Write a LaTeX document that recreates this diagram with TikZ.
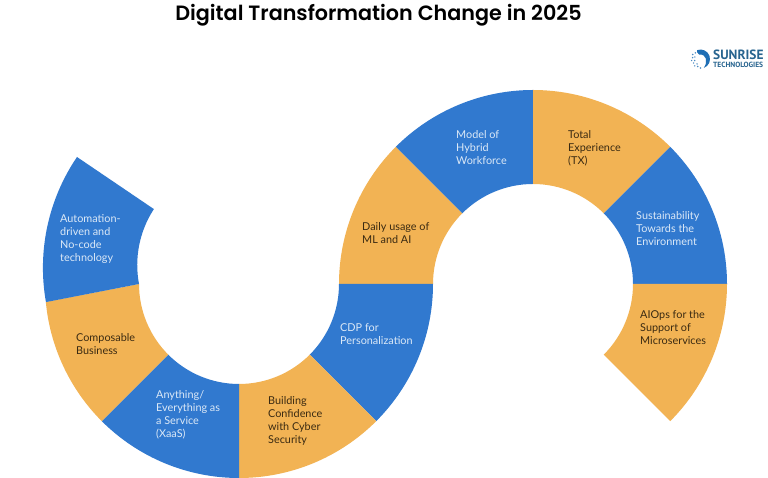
\documentclass[tikz,border=0pt]{standalone}
\usepackage{fontspec}
\setmainfont{Lato}
\newfontfamily\titlefont{Poppins SemiBold}
\newfontfamily\logofont{PT Sans}
\definecolor{segblue}{HTML}{3179CF}
\definecolor{segorange}{HTML}{F2B354}
\definecolor{inkdark}{HTML}{3A2A12}
\definecolor{inklight}{HTML}{DCE9F7}
\definecolor{logoblue}{HTML}{1F6FB5}
\definecolor{logotext}{HTML}{27648F}
\newcommand{\ringseg}[6]{% cx cy start end colour outerEnd
  \fill[#5] ($(#1,#2)+(#3:100)$) -- ($(#1,#2)+(#6:194)$) arc[start angle=#6,end angle=#4,radius=194] -- ($(#1,#2)+(#4:100)$) arc[start angle=#4,end angle=#3,radius=100] -- cycle;}
\usetikzlibrary{calc}
\tikzset{
  lbl/.style={anchor=west,align=left,font=\fontsize{10.85}{13}\selectfont,inner sep=0pt},
  onblue/.style={lbl,text=inklight},
  onorange/.style={lbl,text=inkdark}
}
\begin{document}
\begin{tikzpicture}[x=1pt,y=1pt]
\useasboundingbox (0,0) rectangle (768,478);
\fill[white] (0,0) rectangle (768,478);
% upper circle, centre (533,194)
\ringseg{533}{194}{180}{135}{segorange}{180}
\ringseg{533}{194}{135}{90}{segblue}{135}
\ringseg{533}{194}{90}{45}{segorange}{90}
\ringseg{533}{194}{45}{0}{segblue}{45}
\ringseg{533}{194}{0}{-45}{segorange}{0}
% lower circle, centre (239,194)
\ringseg{239}{194}{0}{-45}{segblue}{0}
\ringseg{239}{194}{-45}{-90}{segorange}{-45}
\ringseg{239}{194}{-90}{-135}{segblue}{-90}
\fill[segorange] (45.83,176.08) arc[start angle=185.3,end angle=225,radius=194] -- (168.3,123.3) arc[start angle=225,end angle=180,radius=100] -- cycle;
\fill[segblue] (139,194) arc[start angle=190.65,end angle=146.9,radius=102.5] -- (77,321) arc[start angle=145.8,end angle=190.05,radius=197] -- cycle;
% labels
\node[onblue] (auto) at (60,239) {Automation-\\driven and\\No-code\\technology};
\node[onorange] (comp) at (76,133.5) {Composable\\Business};
\node[onblue] (xaas) at (156,63.5) {Anything/\\Everything as\\a Service\\(XaaS)};
\node[onorange] (cyber) at (268,57) {Building\\Confidence\\with Cyber\\Security};
\node[onblue] (cdp) at (340,143.5) {CDP for\\Personalization};
\node[onorange] (ml) at (362,244.5) {Daily usage of\\ML and AI};
\node[onblue] (hybrid) at (456,330) {Model of\\Hybrid\\Workforce};
\node[onorange] (tx) at (568,330) {Total\\Experience\\(TX)};
\node[onblue] (sust) at (636,249) {Sustainability\\Towards the\\Environment};
\node[onorange] (aiops) at (640,150) {AIOps for the\\Support of\\Microservices};
% title
\node[font=\titlefont\fontsize{20.7}{24}\selectfont,text=black,inner sep=0pt] (title) at (378.5,463) {Digital Transformation Change in 2025};
% logo
\fill[logoblue] (697.25,427.9) arc[start angle=110,end angle=-70,radius=9.5] .. controls (708,416) and (707,424) .. (699,423.5) .. controls (697,425) and (696.5,427) .. (697.25,427.9) -- cycle;
\foreach \a/\r in {130/8,150/9,170/8,190/9,210/8,230/9,250/8,270/9,160/6,195/6,235/6}
  \fill[logoblue!80] ($(700.5,419)+(\a:\r)$) circle[radius=.8];
\node[anchor=west,align=left,inner sep=0pt,text=logotext,font=\logofont\bfseries] (logo) at (713,419) {\fontsize{13.4}{9.5}\selectfont SUNRISE\\[-3.5pt]\fontsize{7.5}{9.5}\selectfont TECHNOLOGIES};
\end{tikzpicture}
\end{document}
